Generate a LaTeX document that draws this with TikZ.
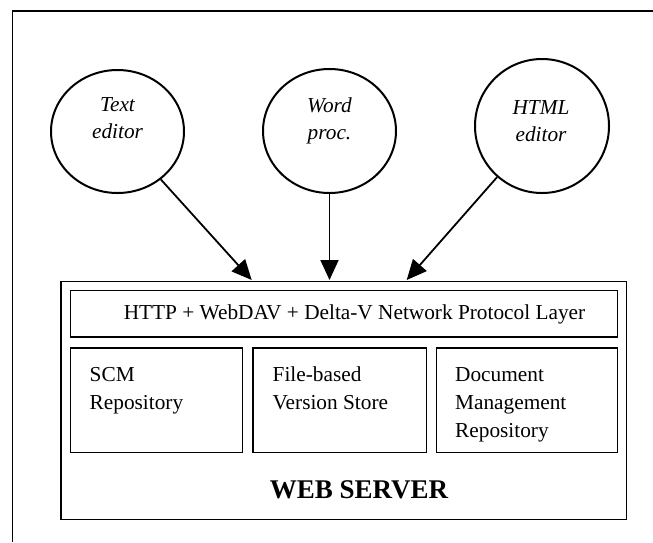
\documentclass[tikz,border=0pt]{standalone}
\usepackage{fontspec}
\setmainfont{Liberation Serif}
\usetikzlibrary{shapes.geometric,arrows.meta,positioning}

\begin{document}
\begin{tikzpicture}[
  x=1pt, y=-1pt,
  font=\fontsize{21.3}{28}\selectfont,
  tool/.style={ellipse, draw, line width=2pt, inner sep=0pt, minimum width=133pt},
  tooltxt/.style={align=center, inner sep=0pt, anchor=north, font=\fontsize{21.3}{27}\selectfont\itshape},
  box/.style={rectangle, draw, line width=1.6pt, inner sep=0pt},
  repo/.style={box, minimum height=104.7pt},
  repotxt/.style={align=left, anchor=north west, inner sep=0pt},
  arr/.style={-{Triangle[length=20pt,width=18pt]}, line width=1.8pt}
]
\useasboundingbox (0,0) rectangle (653,542);
\draw[line width=1.5pt] (653,11) -- (12.5,11) -- (12.5,542);

% editing tools
\node[tool, minimum height=123pt] (te) at (117.5,131.5) {};
\node[tool, minimum height=124pt] (wp) at (329.5,131) {};
\node[tool, minimum width=134pt, minimum height=134pt] (he) at (542,126) {};
\node[tooltxt] (tetxt) at (117.5,97.5) {Text\\editor};
\node[tooltxt] (wptxt) at (329.5,97.5) {Word\\proc.};
\node[tooltxt] (hetxt) at (541,100) {HTML\\editor};

% server
\node[box, minimum width=565.7pt, minimum height=238pt] (srv) at (343.8,400.35) {};
\node[box, minimum width=546.7pt, minimum height=46.4pt] (layer) at (344,313.85) {};
\node[anchor=base, inner sep=0pt] (layertxt) at (354.5,319.3) {HTTP + WebDAV + Delta-V Network Protocol Layer};
\node[repo, minimum width=171.7pt] (scm) at (156.5,400.3) {};
\node[repo, minimum width=173.2pt] (fvs) at (339.75,400.3) {};
\node[repo, minimum width=180.7pt] (dms) at (527,400.3) {};
\node[repotxt] (scmtxt) at (89.5,367) {SCM\\Repository};
\node[repotxt] (fvstxt) at (272.5,366.5) {File-based\\Version Store};
\node[repotxt] (dmstxt) at (455,367) {Document\\Management\\Repository};
\node[anchor=base, inner sep=0pt, font=\fontsize{27}{32}\selectfont\bfseries] (srvtxt) at (359,498) {WEB SERVER};

% requests
\coordinate (in1) at (251.7,280);
\coordinate (in2) at (329.5,280);
\coordinate (in3) at (406.7,280);
\draw[arr] (te)--(in1); \draw[arr] (wp)--(in2); \draw[arr] (he)--(in3);
\end{tikzpicture}
\end{document}
